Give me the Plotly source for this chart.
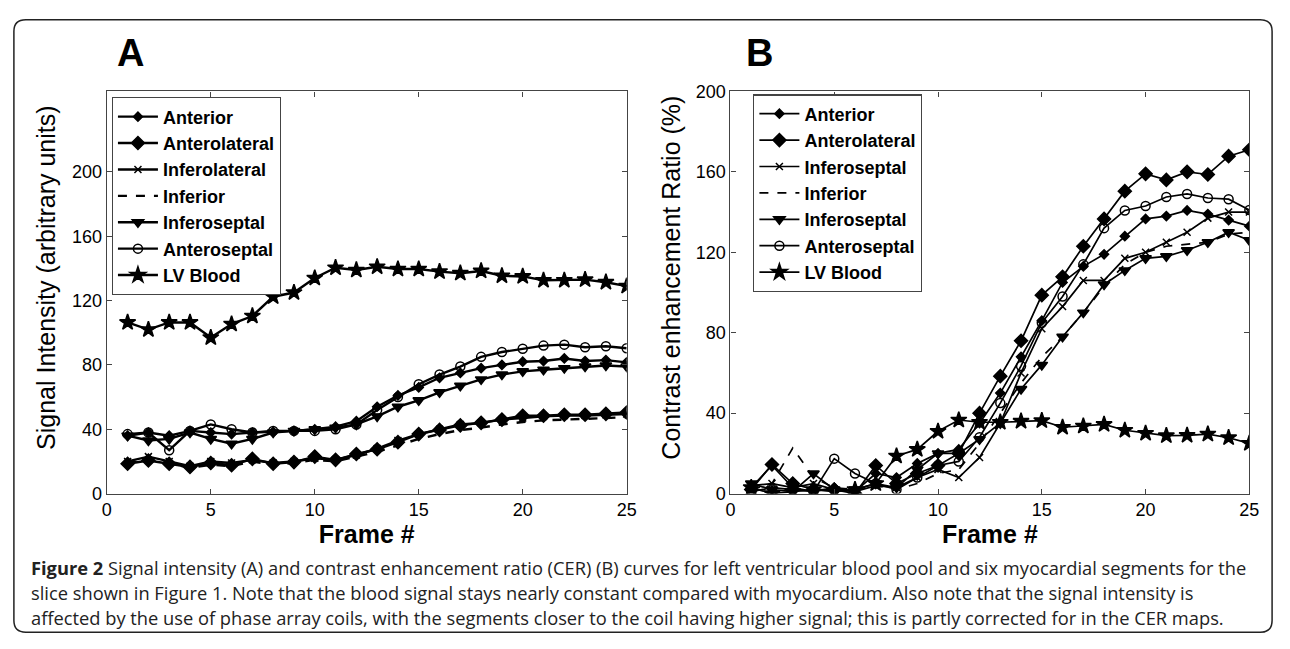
import plotly.graph_objects as go

frames = list(range(1, 26))

# Panel A: Signal intensity (arbitrary units)
A_anterior = [36, 38, 36, 39, 38, 37, 38, 38.4, 39, 40, 41.6, 45, 54, 61, 66, 72, 75, 78, 80, 82, 82.4, 84, 82.4, 83, 81.6]
A_anterolateral = [18.6, 20.6, 18.6, 16.6, 19, 17.6, 21.6, 18.6, 19.6, 23, 21, 24.6, 27.6, 32, 37, 39.6, 42.4, 44, 46, 48.4, 48.4, 49, 49, 49.6, 50.4]
A_inferolateral = [20, 23, 20, 17, 20, 19, 21, 19, 20, 22, 21, 24, 28, 33, 37, 40, 43, 44, 46, 47, 48, 48.5, 48.5, 49, 49.5]
A_inferior = [19, 21, 19, 16, 18, 17, 20, 18, 19, 21, 20, 23, 26, 30, 34, 37, 39.5, 41, 43, 44.5, 45.5, 46, 46.5, 47, 47.5]
A_inferoseptal = [36, 33, 34, 38, 34, 31, 34, 38, 39, 40, 41, 43, 48, 54, 58, 63, 67, 71, 74, 76, 77, 78, 79, 79.6, 79]
A_anteroseptal = [37, 38, 27, 39, 43, 40, 38, 39, 39, 39, 40, 43, 52, 60, 68, 74, 79, 85, 88, 90, 92, 92.6, 91, 91.6, 90.4]
A_lvblood = [106.4, 102, 106.4, 106.4, 97, 105.4, 110.4, 122.4, 125, 134, 140.4, 139, 141, 139.6, 139.6, 138, 137, 138.4, 135.4, 135, 132.6, 132.6, 133, 131.4, 129]

# Panel B: Contrast enhancement ratio (%)
B_anterior = [3, 14, 3, 1, 3, 1, 10, 8, 15, 20, 22, 35, 50, 68, 86, 105, 113, 119, 128, 136.6, 138, 140.8, 139, 136, 133]
B_anterolateral = [2, 14.5, 5, 2, 2, 0, 14, 5, 10, 14, 20, 40, 58.4, 76, 98.7, 107.8, 123, 136.6, 150.4, 159, 156, 160, 158.7, 167.8, 171]
B_inferoseptal_x = [4, 5, 3, 5, 2, 1, 4, 3, 8, 12, 8, 18, 35, 60, 82, 93, 106, 106, 117, 120, 125, 130, 137, 140, 140]
B_inferior = [2, 5, 22.7, 8, 3, 2, 4, 2, 5, 10, 12, 25, 40, 55, 68, 78, 90, 103, 114, 120, 123, 124, 125, 129, 130]
B_inferoseptal = [5, 2, 1, 10, 2, 2, 5, 3, 12, 20, 20, 27, 35, 52, 64, 78, 90, 104, 111, 117, 118, 121, 125, 130, 126]
B_anteroseptal = [1, 3, 2, 1, 17.4, 10, 5, 2, 8, 14, 16, 28, 45, 63.5, 85, 98, 114, 132, 140.8, 143, 147.5, 149, 147, 146.4, 141]
B_lvblood = [3, 0, 1, 2, 1, 2, 5, 18.7, 22, 31, 36.6, 35.5, 35.5, 36, 36.3, 33, 33.6, 34.4, 31.5, 30, 28.8, 29, 29.6, 27.8, 25]

A_names = ["Anterior", "Anterolateral", "Inferolateral", "Inferior", "Inferoseptal", "Anteroseptal", "LV Blood"]
B_names = ["Anterior", "Anterolateral", "Inferoseptal", "Inferior", "Inferoseptal", "Anteroseptal", "LV Blood"]
A_series = [A_anterior, A_anterolateral, A_inferolateral, A_inferior, A_inferoseptal, A_anteroseptal, A_lvblood]
B_series = [B_anterior, B_anterolateral, B_inferoseptal_x, B_inferior, B_inferoseptal, B_anteroseptal, B_lvblood]

A_ytitle = "Signal Intensity (arbitrary units)"
B_ytitle = "Contrast enhancement Ratio (%)"
x_title = "Frame #"
x_ticks = [0, 5, 10, 15, 20, 25]
y_ticks = [0, 40, 80, 120, 160, 200]

styles = [
    dict(symbol="diamond", size=7, dash="solid", mode="lines+markers"),
    dict(symbol="diamond", size=10, dash="solid", mode="lines+markers"),
    dict(symbol="x-thin-open", size=7, dash="solid", mode="lines+markers"),
    dict(symbol="circle", size=1, dash="dash", mode="lines"),
    dict(symbol="triangle-down", size=10, dash="solid", mode="lines+markers"),
    dict(symbol="circle-open", size=9, dash="solid", mode="lines+markers"),
    dict(symbol="star", size=12, dash="solid", mode="lines+markers"),
]

W, H = 1290, 649
def px(x):
    return x / W
def py(y):
    return 1 - y / H

fig = go.Figure()

for names, series, xa, ya, lg, lw in [
    (A_names, A_series, "x", "y", "legend", 2.4),
    (B_names, B_series, "x2", "y2", "legend2", 1.7),
]:
    for name, vals, st in zip(names, series, styles):
        fig.add_trace(go.Scatter(
            x=frames, y=vals, name=name, mode=st["mode"],
            xaxis=xa, yaxis=ya, legend=lg,
            line=dict(color="black", width=lw, dash=st["dash"]),
            marker=dict(symbol=st["symbol"], size=st["size"], color="black",
                        line=dict(color="black", width=1.5)),
        ))

FONT = "Liberation Sans, Arial, sans-serif"
axis_common = dict(
    showline=True, linecolor="#444", linewidth=1.2, mirror="ticks",
    ticks="inside", ticklen=5, tickcolor="#444", showgrid=False, zeroline=False,
    tickfont=dict(family=FONT, size=18, color="black"),
)
xtitle_font = dict(family=FONT, size=25, color="black", weight="bold")
ytitle_font = dict(family=FONT, size=25, color="black")
legend_font = dict(family=FONT, size=18, color="black", weight="bold")

top_px, bot_px = 84, 499
fig.update_layout(
    width=W, height=H, margin=dict(l=0, r=0, t=0, b=0),
    paper_bgcolor="white", plot_bgcolor="white",
    showlegend=True,
    xaxis=dict(domain=[px(103), px(629)], range=[0, 25], tickvals=x_ticks,
               title=dict(text=x_title, font=xtitle_font, standoff=0),
               anchor="y", **axis_common),
    yaxis=dict(domain=[py(bot_px), py(top_px)], range=[0, 250], tickvals=y_ticks,
               anchor="x", **axis_common),
    xaxis2=dict(domain=[px(734), px(1259)], range=[0, 25], tickvals=x_ticks,
                title=dict(text=x_title, font=xtitle_font, standoff=0),
                anchor="y2", **axis_common),
    yaxis2=dict(domain=[py(bot_px), py(top_px)], range=[0, 200], tickvals=y_ticks,
                anchor="x2", **axis_common),
    legend=dict(x=px(108), y=py(90), xanchor="left", yanchor="top",
                bgcolor="white", bordercolor="#444", borderwidth=1.2,
                font=legend_font, tracegroupgap=0, itemwidth=40),
    legend2=dict(x=px(757), y=py(87), xanchor="left", yanchor="top",
                 bgcolor="white", bordercolor="#444", borderwidth=1.2,
                 font=legend_font, tracegroupgap=0, itemwidth=40),
)

# Y axis titles (rotated text)
fig.add_annotation(x=px(42), y=py(276), xref="paper", yref="paper", text=A_ytitle,
                   textangle=-90, showarrow=False, xanchor="center", yanchor="middle",
                   font=ytitle_font)
fig.add_annotation(x=px(674), y=py(276), xref="paper", yref="paper", text=B_ytitle,
                   textangle=-90, showarrow=False, xanchor="center", yanchor="middle",
                   font=ytitle_font)

# Panel letters
fig.add_annotation(x=px(111), y=py(44), xref="paper", yref="paper", text="<b>A</b>",
                   showarrow=False, xanchor="left", yanchor="middle",
                   font=dict(family=FONT, size=38, color="black"))
fig.add_annotation(x=px(748), y=py(44), xref="paper", yref="paper", text="<b>B</b>",
                   showarrow=False, xanchor="left", yanchor="middle",
                   font=dict(family=FONT, size=38, color="black"))

caption_lines = [
    "<b>Figure 2</b> Signal intensity (A) and contrast enhancement ratio (CER) (B) curves for left ventricular blood pool and six myocardial segments for the",
    "slice shown in Figure 1. Note that the blood signal stays nearly constant compared with myocardium. Also note that the signal intensity is",
    "affected by the use of phase array coils, with the segments closer to the coil having higher signal; this is partly corrected for in the CER maps.",
]
for i, line in enumerate(caption_lines):
    fig.add_annotation(x=px(24), y=py(575 + i * 26), xref="paper", yref="paper", text=line,
                       showarrow=False, xanchor="left", yanchor="middle",
                       font=dict(family="Open Sans", size=18.3, color="#222"))

# Rounded border around the whole figure
x0, y0, x1, y1, r = px(9), py(10), px(1282), py(642), 12
rx, ry = r / W, r / H
path = (f"M {x0+rx},{y0} L {x1-rx},{y0} Q {x1},{y0} {x1},{y0-ry} "
        f"L {x1},{y1+ry} Q {x1},{y1} {x1-rx},{y1} L {x0+rx},{y1} Q {x0},{y1} {x0},{y1+ry} "
        f"L {x0},{y0-ry} Q {x0},{y0} {x0+rx},{y0} Z")
fig.add_shape(type="path", path=path, xref="paper", yref="paper",
              line=dict(color="#222", width=1.5), layer="below")

fig.write_html("out.html", config={"displayModeBar": False},
               post_script="document.body.style.margin='0';")
